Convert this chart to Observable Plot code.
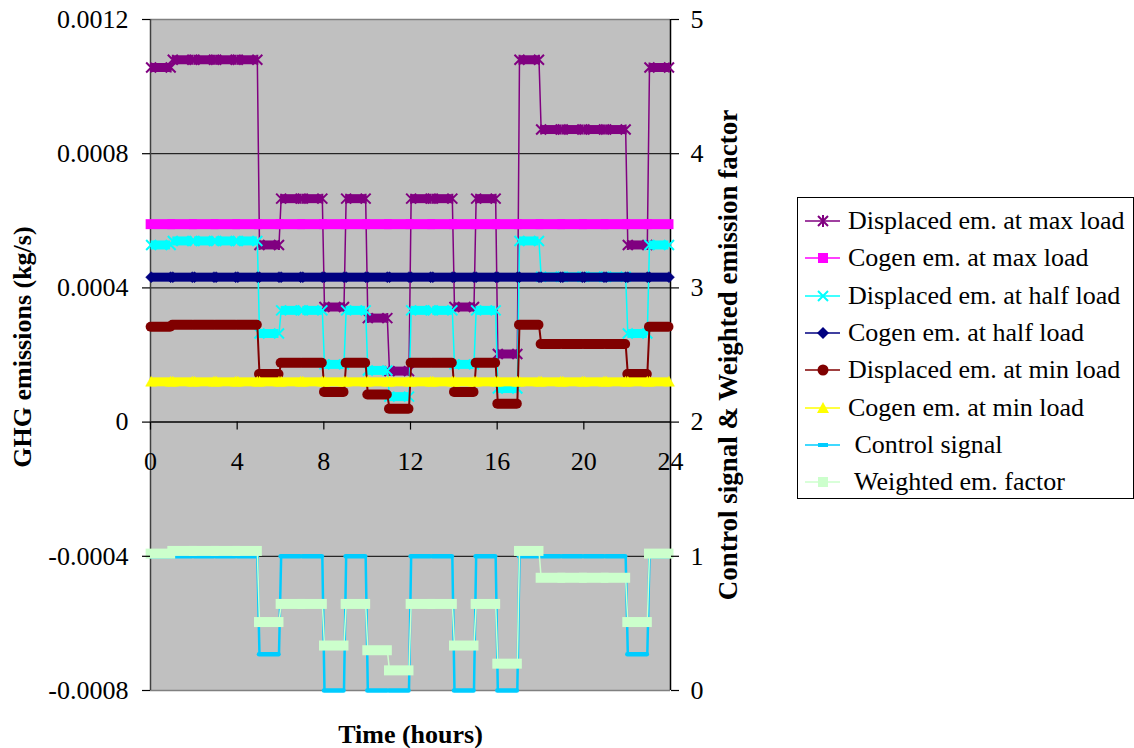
<!DOCTYPE html>
<html><head><meta charset="utf-8">
<script src="https://cdn.jsdelivr.net/npm/d3@7"></script>
<script src="https://cdn.jsdelivr.net/npm/@observablehq/plot@0.6"></script>
<style>
body{margin:0;background:#fff;}
#wrap{position:relative;width:1134px;height:748px;font-family:"Liberation Serif","Times New Roman",serif;}
#legend{position:absolute;left:797px;top:197px;width:337px;height:302px;border:1px solid #000;background:#fff;box-sizing:border-box;}
.row{position:absolute;left:0;height:37px;display:flex;align-items:center;font-size:26px;white-space:pre;color:#000;}
.row svg{flex:none;margin-left:7px;margin-right:7px;}
</style></head><body><div id="wrap"></div>
<script>
// ---- data ----
const hours = [0,1,2,3,4,5,6,7,8,9,10,11,12,13,14,15,16,17,18,19,20,21,22,23];
const displacedMax  = [0.001057,0.00108,0.00108,0.00108,0.00108,0.000528,0.000666,0.000666,0.000343,0.000666,0.00031,0.000152,0.000666,0.000666,0.000343,0.000666,0.000203,0.00108,0.000872,0.000872,0.000872,0.000872,0.000528,0.001057];
const cogenMax      = [0.00059,0.00059,0.00059,0.00059,0.00059,0.00059,0.00059,0.00059,0.00059,0.00059,0.00059,0.00059,0.00059,0.00059,0.00059,0.00059,0.00059,0.00059,0.00059,0.00059,0.00059,0.00059,0.00059,0.00059];
const displacedHalf = [0.000528,0.00054,0.00054,0.00054,0.00054,0.000264,0.000333,0.000333,0.000172,0.000333,0.000154,0.000076,0.000333,0.000333,0.000172,0.000333,0.0001,0.00054,0.000433,0.000433,0.000433,0.000433,0.000264,0.000528];
const cogenHalf     = [0.000432,0.000432,0.000432,0.000432,0.000432,0.000432,0.000432,0.000432,0.000432,0.000432,0.000432,0.000432,0.000432,0.000432,0.000432,0.000432,0.000432,0.000432,0.000432,0.000432,0.000432,0.000432,0.000432,0.000432];
const displacedMin  = [0.000284,0.00029,0.00029,0.00029,0.00029,0.000143,0.000177,0.000177,0.00009,0.000177,0.000082,0.00004,0.000177,0.000177,0.00009,0.000177,0.000055,0.00029,0.000233,0.000233,0.000233,0.000233,0.000143,0.000284];
const cogenMin      = [0.00012,0.00012,0.00012,0.00012,0.00012,0.00012,0.00012,0.00012,0.00012,0.00012,0.00012,0.00012,0.00012,0.00012,0.00012,0.00012,0.00012,0.00012,0.00012,0.00012,0.00012,0.00012,0.00012,0.00012];
const controlSignal = [1,1,1,1,1,0.27,1,1,0,1,0,0,1,1,0,1,0,1,1,1,1,1,0.27,1];
const weightedEm    = [1.02,1.04,1.04,1.04,1.04,0.51,0.645,0.645,0.335,0.645,0.3,0.15,0.645,0.645,0.335,0.645,0.2,1.04,0.84,0.84,0.84,0.84,0.51,1.02];

const seriesNames = ["Displaced em. at max load","Cogen em. at max load","Displaced em. at half load","Cogen em. at half load","Displaced em. at min load","Cogen em. at min load"," Control signal"," Weighted em. factor"];
const leftTicks = [0.0012,0.0008,0.0004,0,-0.0004,-0.0008];
const leftTickLabels = ["0.0012","0.0008","0.0004","0","-0.0004","-0.0008"];
const rightTicks = [5,4,3,2,1,0];
const rightTickLabels = ["5","4","3","2","1","0"];
const xTicks = [0,4,8,12,16,20,24];
const xTickLabels = ["0","4","8","12","16","20","24"];
const gridValues = [0.0008,0.0004,-0.0004];

// secondary axis (0..5) shares the primary scale (-0.0008..0.0012)
const toLeft = r => (r - 2) / 2500;

// ---- marker symbols ----
const rad = s => Math.sqrt(s / Math.PI);
const symStar = {draw(c, s){const r = rad(s); c.moveTo(-r,-r); c.lineTo(r,r); c.moveTo(r,-r); c.lineTo(-r,r); c.moveTo(0,-r); c.lineTo(0,r);}};
const symX = {draw(c, s){const r = rad(s); c.moveTo(-r,-r); c.lineTo(r,r); c.moveTo(r,-r); c.lineTo(-r,r);}};
const symDiamond = {draw(c, s){const r = rad(s); c.moveTo(0,-r); c.lineTo(r,0); c.lineTo(0,r); c.lineTo(-r,0); c.closePath();}};
const symTri = {draw(c, s){const r = rad(s); c.moveTo(0,-r); c.lineTo(r,r*0.8); c.lineTo(-r,r*0.8); c.closePath();}};

const series = [
  {values: displacedMax,  axis:"left",  color:"#800080", bw:9,   cap:"butt",   lw:1.5, sym:symStar,    r:5,   symFill:false},
  {values: cogenMax,      axis:"left",  color:"#FF00FF", bw:10,  cap:"square", lw:1.5},
  {values: displacedHalf, axis:"left",  color:"#00FFFF", bw:9,   cap:"butt",   lw:1.5, sym:symX,       r:5,   symFill:false},
  {values: cogenHalf,     axis:"left",  color:"#000080", bw:9,   cap:"butt",   lw:1.5, sym:symDiamond, r:5.5, symFill:true},
  {values: displacedMin,  axis:"left",  color:"#800000", bw:10,  cap:"round",  lw:2},
  {values: cogenMin,      axis:"left",  color:"#FFFF00", bw:9,   cap:"butt",   lw:1.5, sym:symTri,     r:5.5, symFill:true},
  {values: controlSignal, axis:"right", color:"#00CCFF", bw:4.5, cap:"round",  lw:2.5},
  {values: weightedEm,    axis:"right", color:"#CCFFCC", bw:10,  cap:"square", lw:1.5}
];

const A = 0.03, B = 0.93;
function seriesMarks(s){
  const conv = s.axis === "right" ? toLeft : (v => v);
  const segs = hours.map(h => ({h, v: conv(s.values[h])}));
  const pts = segs.flatMap(d => [{t: d.h + A, v: d.v}, {t: d.h + B, v: d.v}]);
  const m = [
    Plot.line(pts, {x:"t", y:"v", stroke:s.color, strokeWidth:s.lw}),
    Plot.ruleY(segs, {y:"v", x1: d => d.h + A, x2: d => d.h + B, stroke:s.color, strokeWidth:s.bw, strokeLinecap:s.cap})
  ];
  if (s.sym) m.push(Plot.dot(pts, {x:"t", y:"v", symbol:s.sym, r:s.r,
    fill: s.symFill ? s.color : "none", stroke: s.color, strokeWidth: s.symFill ? 0.5 : 2}));
  return m;
}

const leftLabel = new Map(leftTicks.map((d,i) => [d, leftTickLabels[i]]));
const rightVals = rightTicks.map(toLeft);
const rightLabel = new Map(rightVals.map((d,i) => [d, rightTickLabels[i]]));
const xLabel = new Map(xTicks.map((d,i) => [d, xTickLabels[i]]));

const chart = Plot.plot({
  width: 1134, height: 748,
  marginLeft: 150, marginRight: 464, marginTop: 19, marginBottom: 58,
  style: {fontFamily: '"Liberation Serif", "Times New Roman", serif', fontSize: "26px", background: "white", color: "black"},
  x: {domain: [0, 24], axis: null},
  y: {domain: [-0.0008, 0.0012]},
  marks: [
    Plot.frame({fill: "#C0C0C0", stroke: null}),
    Plot.ruleY(gridValues, {stroke: "#000", strokeWidth: 1}),
    Plot.ruleY([leftTicks[0]], {stroke: "#808080", strokeWidth: 1.5}),
    Plot.ruleY([leftTicks[5]], {stroke: "#808080", strokeWidth: 1.5}),
    Plot.ruleY([0], {stroke: "#000", strokeWidth: 1.5}),
    Plot.ruleX([xTicks[0]], {stroke: "#404040", strokeWidth: 1.5}),
    Plot.ruleX([xTicks[6]], {stroke: "#000", strokeWidth: 1.5}),
    Plot.ruleX(xTicks, {x: d => d, y1: d => 0, y2: d => 0, insetBottom: -8, stroke: "#000", strokeWidth: 1.2}),
    ...series.flatMap(seriesMarks),
    Plot.axisY({anchor: "left", ticks: leftTicks, tickFormat: d => leftLabel.get(d), tickSize: 8, tickPadding: 14, fontSize: 26, label: null, strokeWidth: 1.2}),
    Plot.axisY(rightVals, {anchor: "right", tickFormat: d => rightLabel.get(d), tickSize: 8, tickPadding: 12, fontSize: 26, label: null, strokeWidth: 1.2}),
    Plot.text(xTicks, {x: d => d, y: d => 0, dy: 40, text: d => xLabel.get(d), fontSize: 26, fill: "#000"}),
    Plot.text(["GHG emissions (kg/s)"], {text: d => d, frameAnchor: "left", textAnchor: "middle", dx: -128, dy: -8, rotate: -90, fontWeight: "bold", fontSize: 26, fill: "#000"}),
    Plot.text(["Control signal & Weighted emission factor"], {text: d => d, frameAnchor: "right", textAnchor: "middle", dx: 58, rotate: -90, fontWeight: "bold", fontSize: 27, fill: "#000"}),
    Plot.text(["Time (hours)"], {text: d => d, frameAnchor: "bottom", dy: 52, fontWeight: "bold", fontSize: 26, fill: "#000"})
  ]
});

const wrap = document.getElementById("wrap");
wrap.appendChild(chart);

// ---- legend ----
const legend = document.createElement("div");
legend.id = "legend";
const legendSym = [
  (c) => `<line x1="0" y1="0" x2="35" y2="0" stroke="${c}" stroke-width="1.5"/><path d="M13,-5L23,5M23,-5L13,5M18,-6L18,6" stroke="${c}" stroke-width="2"/>`,
  (c) => `<line x1="0" y1="0" x2="35" y2="0" stroke="${c}" stroke-width="1.5"/><rect x="13" y="-5" width="10" height="10" fill="${c}"/>`,
  (c) => `<line x1="0" y1="0" x2="35" y2="0" stroke="${c}" stroke-width="1.5"/><path d="M13,-5L23,5M23,-5L13,5" stroke="${c}" stroke-width="2"/>`,
  (c) => `<line x1="0" y1="0" x2="35" y2="0" stroke="${c}" stroke-width="1.5"/><path d="M18,-6L24,0L18,6L12,0Z" fill="${c}"/>`,
  (c) => `<line x1="0" y1="0" x2="35" y2="0" stroke="${c}" stroke-width="1.5"/><circle cx="18" cy="0" r="5.5" fill="${c}"/>`,
  (c) => `<line x1="0" y1="0" x2="35" y2="0" stroke="${c}" stroke-width="1.5"/><path d="M18,-6L24,5L12,5Z" fill="${c}"/>`,
  (c) => `<line x1="0" y1="0" x2="35" y2="0" stroke="${c}" stroke-width="1.5"/><rect x="13" y="-2" width="10" height="4" fill="${c}"/>`,
  (c) => `<line x1="0" y1="0" x2="35" y2="0" stroke="${c}" stroke-width="1.5"/><rect x="13" y="-5" width="10" height="10" fill="${c}"/>`
];
seriesNames.forEach((name, i) => {
  const row = document.createElement("div");
  row.className = "row";
  row.style.top = (23 + i * 37.3 - 18.5) + "px";
  row.innerHTML = `<svg width="36" height="16" viewBox="0 -8 36 16">${legendSym[i](series[i].color)}</svg><span>${name.replace(/&/g,"&amp;")}</span>`;
  legend.appendChild(row);
});
wrap.appendChild(legend);
</script>
</body></html>
